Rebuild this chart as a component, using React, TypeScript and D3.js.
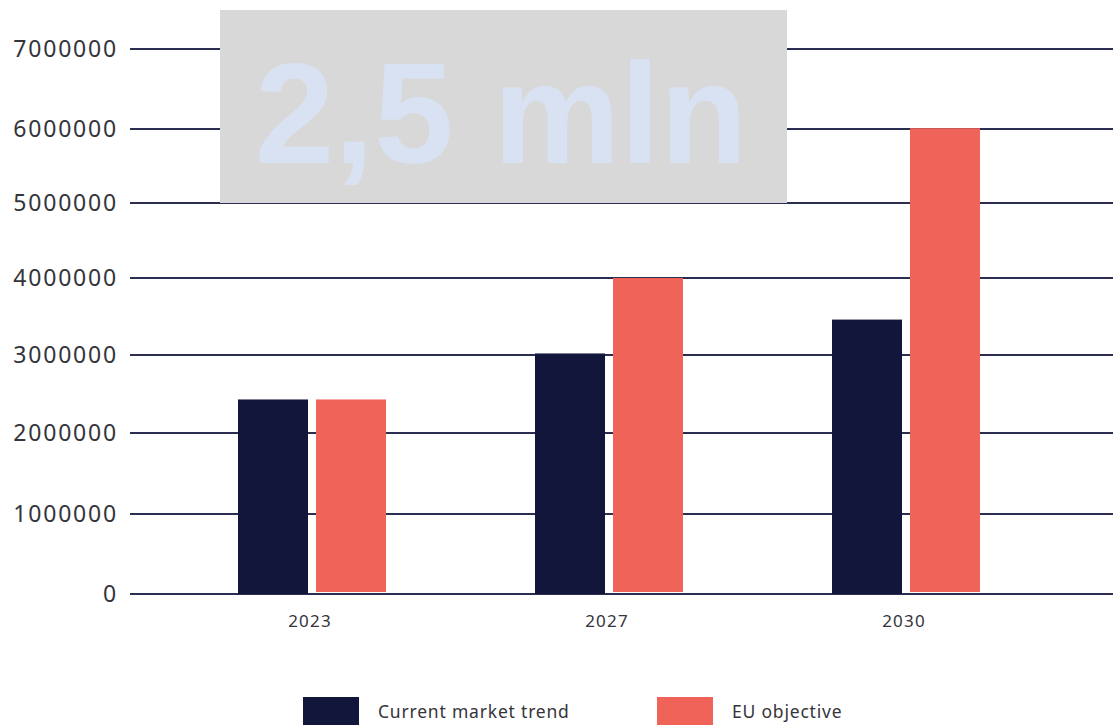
import React from "react";
import * as d3 from "d3";

const years = ["2023", "2027", "2030"];
const currentTrend = [2430000, 3020000, 3460000];
const euObjective = [2430000, 4000000, 6010000];
const yTicks = [0, 1000000, 2000000, 3000000, 4000000, 5000000, 6000000, 7000000];
const seriesNames = ["Current market trend", "EU objective"];
const seriesColors = ["#12163b", "#f06358"];
const highlightText = "2,5 mln";

const W = 1113;
const H = 725;

export default function App() {
  // polylinear scale following the (slightly uneven) gridline spacing of the source
  const y = d3
    .scaleLinear()
    .domain(yTicks)
    .range([594, 514, 433, 355, 278, 203, 129, 49]);
  const x = d3.scalePoint<string>().domain(years).range([312, 906]);
  const barW = 70;
  const gap = 8;
  const gridColor = "#2b2e50";
  const series = [currentTrend, euObjective];

  return (
    <svg
      width={W}
      height={H}
      style={{ position: "absolute", left: 0, top: 0, background: "#fff" }}
    >
      {yTicks.map((t) => (
        <g key={t}>
          <line x1={130} x2={W} y1={y(t)} y2={y(t)} stroke={gridColor} strokeWidth={1.8} />
          <text
            x={118}
            y={y(t)}
            dy="0.35em"
            textAnchor="end"
            fontFamily="Noto Sans"
            fontSize={23}
            letterSpacing={1.8}
            fill="#34343a"
          >
            {String(t)}
          </text>
        </g>
      ))}
      {years.map((yr, i) => {
        const cx = x(yr) as number;
        return (
          <g key={yr}>
            {series.map((s, si) => {
              const x0 = si === 0 ? cx - gap / 2 - barW : cx + gap / 2;
              const top = y(s[i]);
              const bottom = si === 0 ? y(0) : y(0) - 2;
              return (
                <rect
                  key={si}
                  x={x0}
                  y={top}
                  width={barW}
                  height={bottom - top}
                  fill={seriesColors[si]}
                />
              );
            })}
            <text
              x={cx - 2}
              y={621}
              dy="0.35em"
              textAnchor="middle"
              fontFamily="Noto Sans"
              fontSize={17}
              letterSpacing={1.2}
              fill="#34343a"
            >
              {yr}
            </text>
          </g>
        );
      })}
      <rect x={220} y={10} width={567} height={193} fill="#d8d8d8" />
      <text
        x={501}
        y={163}
        textAnchor="middle"
        fontFamily="Liberation Sans"
        fontWeight="bold"
        fontSize={143}
        fill="#d9e2f3"
      >
        {highlightText}
      </text>
      {seriesNames.map((name, i) => {
        const lx = i === 0 ? 303 : 657;
        return (
          <g key={name}>
            <rect x={lx} y={697} width={56} height={34} fill={seriesColors[i]} />
            <text
              x={lx + 75}
              y={712}
              dy="0.35em"
              fontFamily="Noto Sans"
              fontSize={17.5}
              letterSpacing={0.8}
              fill="#34343a"
            >
              {name}
            </text>
          </g>
        );
      })}
    </svg>
  );
}
